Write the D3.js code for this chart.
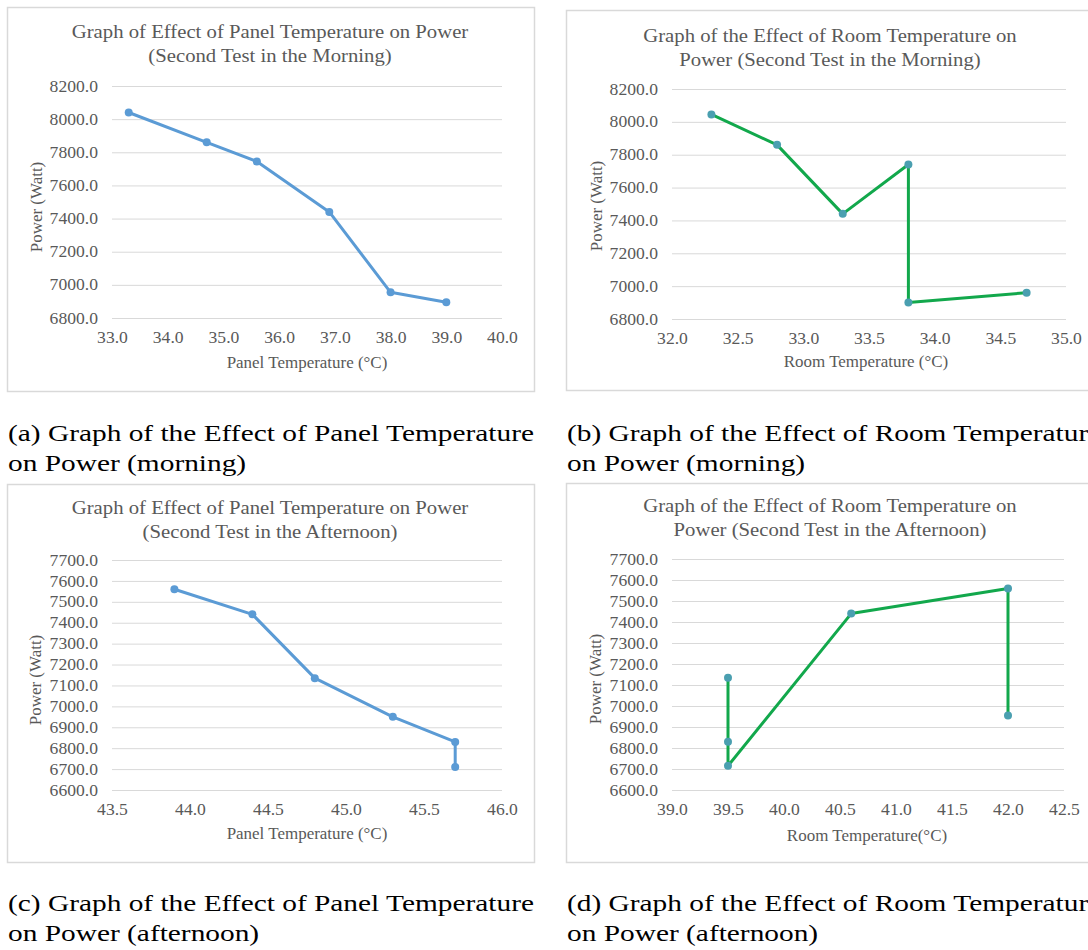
<!DOCTYPE html>
<html>
<head>
<meta charset="utf-8">
<script src="https://cdn.jsdelivr.net/npm/d3@7"></script>
<style>
  body { margin: 0; background: #fff; }
  svg { display: block; }
</style>
</head>
<body>
<div id="svg-container"></div>
<script>
// (a) panel temperature, morning
const panelTempMorning = [33.3, 34.7, 35.6, 36.9, 38.0, 39.0];
const powerPanelMorning = [8040, 7860, 7745, 7440, 6955, 6895];
// (b) room temperature, morning
const roomTempMorning = [32.3, 32.8, 33.3, 33.8, 33.8, 34.7];
const powerRoomMorning = [8045, 7860, 7440, 7740, 6900, 6960];
// (c) panel temperature, afternoon
const panelTempAfternoon = [43.9, 44.4, 44.8, 45.3, 45.7, 45.7];
const powerPanelAfternoon = [7560, 7440, 7135, 6950, 6830, 6710];
// (d) room temperature, afternoon
const roomTempAfternoon = [39.5, 39.5, 39.5, 40.6, 42.0, 42.0];
const powerRoomAfternoon = [7135, 6830, 6715, 7440, 7560, 6955];

// tick values
const xTicksA = [33, 34, 35, 36, 37, 38, 39, 40];
const xTicksB = [32, 32.5, 33, 33.5, 34, 34.5, 35];
const xTicksC = [43.5, 44, 44.5, 45, 45.5, 46];
const xTicksD = [39, 39.5, 40, 40.5, 41, 41.5, 42, 42.5];
const yTicksMorning = [6800, 7000, 7200, 7400, 7600, 7800, 8000, 8200];
const yTicksAfternoon = [6600, 6700, 6800, 6900, 7000, 7100, 7200, 7300, 7400, 7500, 7600, 7700];

const titles = [
  ["Graph of Effect of Panel Temperature  on Power", "(Second Test in the Morning)"],
  ["Graph of the Effect of Room Temperature  on", "Power (Second Test in the Morning)"],
  ["Graph of Effect of Panel Temperature  on Power", "(Second Test in the Afternoon)"],
  ["Graph of the Effect of Room Temperature  on", "Power (Second Test in the Afternoon)"]
];
const xTitles = ["Panel Temperature  (\u00B0C)", "Room Temperature  (\u00B0C)",
                 "Panel Temperature  (\u00B0C)", "Room Temperature(\u00B0C)"];
const yTitle = "Power (Watt)";
const captions = [
  ["(a) Graph of the Effect of Panel Temperature", "on Power (morning)"],
  ["(b) Graph of the Effect of Room Temperature", "on Power (morning)"],
  ["(c) Graph of the Effect of Panel Temperature", "on Power (afternoon)"],
  ["(d) Graph of the Effect of Room Temperature", "on Power (afternoon)"]
];

const W = 1088, H = 950;
const FONT = "'Liberation Serif', 'Times New Roman', serif";
const BLUE = "#5b9bd5", GREEN = "#12a84c", TEAL = "#4a9fb0";
const TXT = "#595959", GRID = "#d9d9d9";

const svg = d3.select("#svg-container")
  .append("svg")
  .attr("width", W)
  .attr("height", H)
  .attr("font-family", FONT);

/** panel layout: box, plot area, text positions */
const panels = [
  { box: [7, 7, 527, 384], plot: [112, 86, 502, 318], titleX: 270, titleY: [38, 62],
    xTitle: [307, 368], yTitle: [42, 207], x: panelTempMorning, y: powerPanelMorning,
    xTicks: xTicksA, yTicks: yTicksMorning, line: BLUE, dot: BLUE },
  { box: [566, 10, 540, 380], plot: [672, 89, 1066, 319], titleX: 830, titleY: [42, 66],
    xTitle: [866, 367], yTitle: [602, 206], x: roomTempMorning, y: powerRoomMorning,
    xTicks: xTicksB, yTicks: yTicksMorning, line: GREEN, dot: TEAL },
  { box: [7, 484, 527, 378], plot: [112, 560, 502, 790], titleX: 270, titleY: [514, 538],
    xTitle: [307, 839], yTitle: [41, 680], x: panelTempAfternoon, y: powerPanelAfternoon,
    xTicks: xTicksC, yTicks: yTicksAfternoon, line: BLUE, dot: BLUE },
  { box: [566, 483, 540, 379], plot: [672, 559, 1064, 790], titleX: 830, titleY: [512, 536],
    xTitle: [867, 841], yTitle: [601, 679], x: roomTempAfternoon, y: powerRoomAfternoon,
    xTicks: xTicksD, yTicks: yTicksAfternoon, line: GREEN, dot: TEAL }
];

// widen a text element by factor k (the source image is horizontally stretched)
function stretch(sel, k) {
  sel.each(function() {
    const w = this.getComputedTextLength();
    d3.select(this).attr("textLength", w * k).attr("lengthAdjust", "spacingAndGlyphs");
  });
}

panels.forEach((p, i) => {
  const g = svg.append("g").attr("class", "panel");

  g.append("rect")
    .attr("x", p.box[0] + 0.5).attr("y", p.box[1] + 0.5)
    .attr("width", p.box[2]).attr("height", p.box[3])
    .attr("fill", "#fff").attr("stroke", GRID).attr("stroke-width", 1.5);

  const xScale = d3.scaleLinear()
    .domain(d3.extent(p.xTicks))
    .range([p.plot[0], p.plot[2]]);
  const yScale = d3.scaleLinear()
    .domain(d3.extent(p.yTicks))
    .range([p.plot[3], p.plot[1]]);

  // horizontal gridlines via y-axis
  const yAxis = g.append("g")
    .attr("class", "y-axis")
    .attr("transform", "translate(" + p.plot[0] + ",0)")
    .call(d3.axisLeft(yScale).tickValues(p.yTicks).tickFormat(d3.format(".1f"))
      .tickSize(-(p.plot[2] - p.plot[0])).tickPadding(14));
  yAxis.attr("font-family", FONT).attr("font-size", 16);
  yAxis.select(".domain").remove();
  yAxis.selectAll("line").attr("stroke", GRID).attr("stroke-width", 1);
  yAxis.selectAll("text").attr("fill", TXT);

  const xAxis = g.append("g")
    .attr("class", "x-axis")
    .attr("transform", "translate(0," + p.plot[3] + ")")
    .call(d3.axisBottom(xScale).tickValues(p.xTicks).tickFormat(d3.format(".1f"))
      .tickSize(0).tickPadding(14));
  xAxis.attr("font-family", FONT).attr("font-size", 16);
  xAxis.select(".domain").remove();
  xAxis.selectAll("text").attr("fill", TXT);

  // titles
  titles[i].forEach((t, k) => {
    g.append("text")
      .attr("class", "chart-title")
      .attr("x", p.titleX).attr("y", p.titleY[k])
      .attr("text-anchor", "middle")
      .attr("fill", TXT).attr("font-size", 18.5)
      .text(t);
  });

  g.append("text")
    .attr("class", "axis-title")
    .attr("x", p.xTitle[0]).attr("y", p.xTitle[1])
    .attr("text-anchor", "middle")
    .attr("fill", TXT).attr("font-size", 16)
    .text(xTitles[i]);

  g.append("text")
    .attr("class", "axis-title")
    .attr("text-anchor", "middle")
    .attr("fill", TXT).attr("font-size", 16)
    .attr("transform", "translate(" + p.yTitle[0] + "," + p.yTitle[1] + ") rotate(-90)")
    .text(yTitle);

  // series
  const pts = p.x.map((d, j) => [d, p.y[j]]);
  const line = d3.line().x(d => xScale(d[0])).y(d => yScale(d[1]));

  g.append("path")
    .datum(pts)
    .attr("d", line)
    .attr("fill", "none")
    .attr("stroke", p.line)
    .attr("stroke-width", 3)
    .attr("stroke-linejoin", "round");

  g.selectAll("circle.dot")
    .data(pts)
    .enter()
    .append("circle")
    .attr("class", "dot")
    .attr("cx", d => xScale(d[0]))
    .attr("cy", d => yScale(d[1]))
    .attr("r", 4)
    .attr("fill", p.dot);

  stretch(g.selectAll(".tick text"), 1.1);
  stretch(g.selectAll(".chart-title"), 1.12);
  stretch(g.selectAll(".axis-title"), 1.06);
});

/** sub-figure captions */
const capX = [8, 567];
const capY = [[441, 471], [911, 941]];
const caps = svg.append("g").attr("class", "captions");
captions.forEach((c, i) => {
  c.forEach((t, k) => {
    caps.append("text")
      .attr("class", "caption")
      .attr("x", capX[i % 2])
      .attr("y", capY[Math.floor(i / 2)][k])
      .attr("fill", "#000")
      .attr("font-size", 23)
      .text(t);
  });
});
// scale caption width so line (a) spans the same width as the source
const capRef = caps.select("text.caption").node().getComputedTextLength();
stretch(caps.selectAll("text.caption"), 526 / capRef);
</script>
</body>
</html>
